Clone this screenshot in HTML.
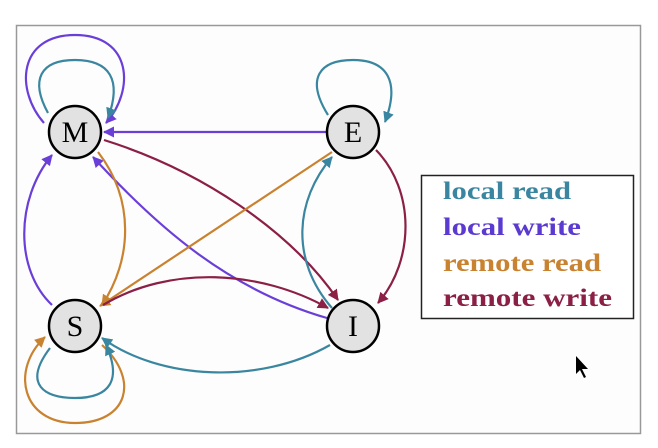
<!DOCTYPE html>
<html><head><meta charset="utf-8"><style>
body{margin:0;background:#fff;}
svg{display:block;}
</style></head><body>
<svg width="658" height="448" viewBox="0 0 658 448" xmlns="http://www.w3.org/2000/svg">
<defs>
<marker id="aT" markerWidth="11" markerHeight="11" refX="10" refY="5.5" orient="auto" markerUnits="userSpaceOnUse"><path d="M0,0 L11,5.5 L0,11 z" fill="#3a86a0"/></marker>
<marker id="aP" markerWidth="11" markerHeight="11" refX="10" refY="5.5" orient="auto" markerUnits="userSpaceOnUse"><path d="M0,0 L11,5.5 L0,11 z" fill="#6a3fd8"/></marker>
<marker id="aO" markerWidth="11" markerHeight="11" refX="10" refY="5.5" orient="auto" markerUnits="userSpaceOnUse"><path d="M0,0 L11,5.5 L0,11 z" fill="#c9822f"/></marker>
<marker id="aR" markerWidth="11" markerHeight="11" refX="10" refY="5.5" orient="auto" markerUnits="userSpaceOnUse"><path d="M0,0 L11,5.5 L0,11 z" fill="#8b1f45"/></marker>
</defs>
<rect x="16.5" y="25.5" width="624" height="408" fill="#fdfdfd" stroke="#999" stroke-width="1.5"/>
<g fill="none" stroke-width="2.2">
<path d="M44,123 C15,90 18,35 75,35 C132,35 135,90 106,123" stroke="#6a3fd8" marker-end="url(#aP)"/>
<path d="M48,113 C30,80 40,60 75,60 C110,60 122,80 108,118" stroke="#3a86a0" marker-end="url(#aT)"/>
<path d="M328,115 C305,78 320,60 353,60 C388,60 400,82 385,122" stroke="#3a86a0" marker-end="url(#aT)"/>
<path d="M327,132 L104,132" stroke="#6a3fd8" marker-end="url(#aP)"/>
<path d="M104,140 C200,170 290,230 338,300" stroke="#8b1f45" marker-end="url(#aR)"/>
<path d="M327,318 C230,290 160,230 93,157" stroke="#6a3fd8" marker-end="url(#aP)"/>
<path d="M98,152 C135,200 132,260 102,305" stroke="#c9822f" marker-end="url(#aO)"/>
<path d="M52,305 C15,270 15,200 52,155" stroke="#6a3fd8" marker-end="url(#aP)"/>
<path d="M332,152 L100,306" stroke="#c9822f" marker-end="url(#aO)"/>
<path d="M332,308 C290,260 295,200 332,157" stroke="#3a86a0" marker-end="url(#aT)"/>
<path d="M376,150 C415,190 415,260 378,303" stroke="#8b1f45" marker-end="url(#aR)"/>
<path d="M103,305 C170,265 260,270 328,308" stroke="#8b1f45" marker-end="url(#aR)"/>
<path d="M330,345 C260,385 160,380 102,338" stroke="#3a86a0" marker-end="url(#aT)"/>
<path d="M102,345 C140,380 128,423 75,423 C22,423 10,370 45,337" stroke="#c9822f" marker-end="url(#aO)"/>
<path d="M50,348 C22,385 45,398 75,398 C110,398 122,380 106,345" stroke="#3a86a0" marker-end="url(#aT)"/>
</g>
<g stroke="#000" stroke-width="2.5" fill="#e2e2e2">
<circle cx="75" cy="132" r="26"/>
<circle cx="353" cy="132" r="26"/>
<circle cx="75" cy="326" r="26"/>
<circle cx="353" cy="326" r="26"/>
</g>
<g font-family="Liberation Serif, serif" font-size="30" text-anchor="middle">
<text x="75" y="142">M</text>
<text x="353" y="142">E</text>
<text x="75" y="336">S</text>
<text x="353" y="336">I</text>
</g>
<rect x="421.5" y="175.5" width="212" height="143" fill="#fff" stroke="#222" stroke-width="1.5"/>
<g font-family="Liberation Serif, serif" font-size="25" font-weight="bold">
<text x="443" y="199" fill="#3a86a0" textLength="128" lengthAdjust="spacingAndGlyphs">local read</text>
<text x="443" y="235" fill="#5a3ad0" textLength="138" lengthAdjust="spacingAndGlyphs">local write</text>
<text x="443" y="271" fill="#c9822f" textLength="158" lengthAdjust="spacingAndGlyphs">remote read</text>
<text x="443" y="306" fill="#8b1f45" textLength="169" lengthAdjust="spacingAndGlyphs">remote write</text>
</g>
<path d="M576,356 L576,374 L580,370 L584,378 L586,377 L582,369 L588,369 z" fill="#000"/>
</svg>
</body></html>
